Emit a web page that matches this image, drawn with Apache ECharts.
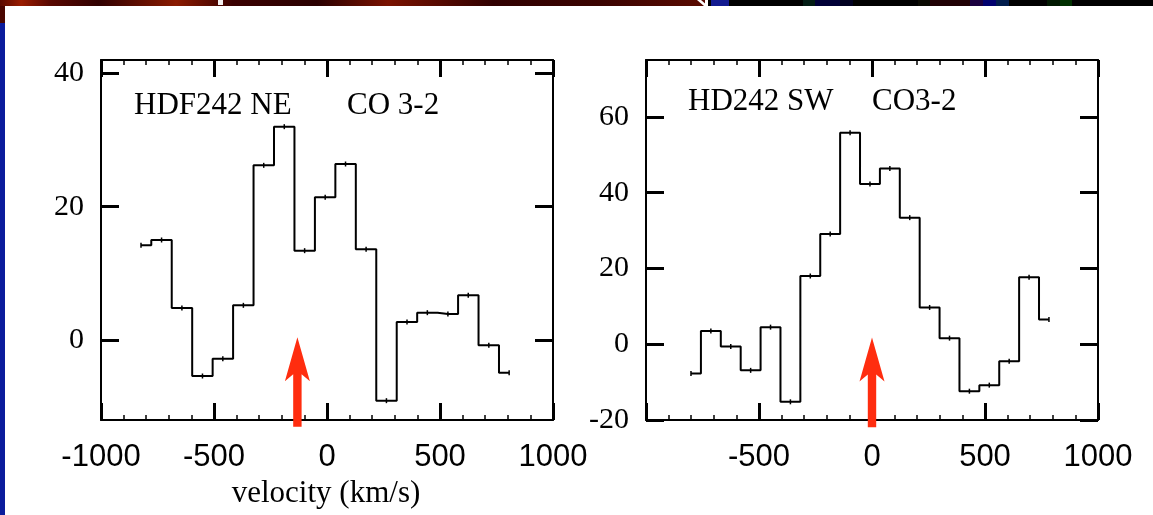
<!DOCTYPE html>
<html>
<head>
<meta charset="utf-8">
<script src="https://cdn.jsdelivr.net/npm/echarts@6/dist/echarts.min.js"></script>
<style>
html,body{margin:0;padding:0;background:#fff;}
#chart{width:1153px;height:515px;}
</style>
</head>
<body>
<div id="chart"></div>
<script>
// ---- data ----
const neVelocity = [-823, -732, -642, -551, -461, -370, -280, -189, -99, -8, 82, 173, 263, 354, 444, 535, 625, 716, 806];
const neFlux     = [14.2, 15.0, 4.8, -5.4, -2.8, 5.2, 26.2, 32.0, 13.4, 21.4, 26.4, 13.6, -9.1, 2.7, 4.1, 3.9, 6.7, -0.8, -4.9];
const swVelocity = [-801, -713, -625, -537, -449, -361, -273, -185, -97, -9, 79, 167, 255, 343, 431, 519, 607, 695, 783];
const swFlux     = [-7.7, 3.5, -0.6, -6.9, 4.5, -15.2, 18.0, 29.1, 55.8, 42.3, 46.4, 33.4, 9.7, 1.6, -12.4, -10.8, -4.5, 17.7, 6.5];
const xTicksLeft  = [-1000, -500, 0, 500, 1000];
const xTicksRight = [-500, 0, 500, 1000];
const yTicksLeft  = [0, 20, 40];
const yTicksRight = [-20, 0, 20, 40, 60];
// arrows: [velocity, tip flux, base flux]
const neArrow = [[-131, 0.4, -13.0]];
const swArrow = [[0, 1.8, -21.9]];
const labelsLeft  = ['HDF242 NE', 'CO 3-2'];
const labelsRight = ['HD242 SW', 'CO3-2'];
const xTitle = 'velocity (km/s)';

const serif = '"Liberation Serif","Times New Roman",serif';
const sans  = '"Liberation Sans",Arial,sans-serif';
const ARROW = '#ff2d0f';

function zip(a, b){ return a.map((v, i) => [v, b[i]]); }

const chart = echarts.init(document.getElementById('chart'), null, {renderer: 'canvas'});

function xAxisDef(gridIndex, pos, labelVals){
  return {
    type: 'value', gridIndex: gridIndex, position: pos,
    min: -1000, max: 1000, interval: 500,
    axisLine: {show: true, onZero: false, lineStyle: {color: '#000', width: 2}},
    axisTick: {show: true, inside: true, length: 17, lineStyle: {color: '#000', width: 3}},
    minorTick: {show: true, splitNumber: 5, length: 5, lineStyle: {color: '#000', width: 1.5}},
    splitLine: {show: false},
    axisLabel: labelVals ? {show: true, customValues: labelVals, margin: 22, fontFamily: sans, fontSize: 31, color: '#000',
      formatter: function(v){ return String(v); }} : {show: false}
  };
}
function yAxisDef(gridIndex, pos, min, max, vals, showLabel){
  return {
    type: 'value', gridIndex: gridIndex, position: pos,
    min: min, max: max,
    axisLine: {show: true, onZero: false, lineStyle: {color: '#000', width: 2}},
    axisTick: {show: true, inside: true, length: 18, customValues: vals, lineStyle: {color: '#000', width: 3}},
    splitLine: {show: false},
    axisLabel: showLabel ? {show: true, customValues: vals, margin: 17, fontFamily: serif, fontSize: 30, color: '#000',
      formatter: function(v){ return String(v); }} : {show: false}
  };
}

function arrowRender(params, api){
  const x = api.value(0);
  const t = api.coord([x, api.value(1)]);
  const b = api.coord([x, api.value(2)]);
  const hw = 4.2, headW = 12.5, headL = 44, notch = 37;
  const pts = [
    [t[0], t[1]],
    [t[0] + headW, t[1] + headL],
    [t[0] + hw, t[1] + notch],
    [t[0] + hw, b[1]],
    [t[0] - hw, b[1]],
    [t[0] - hw, t[1] + notch],
    [t[0] - headW, t[1] + headL]
  ];
  return {type: 'polygon', shape: {points: pts}, style: {fill: ARROW}};
}

function stepSeries(xi, yi, data){
  return {
    type: 'line', xAxisIndex: xi, yAxisIndex: yi, data: data, step: 'middle',
    symbol: 'rect', symbolSize: [1.5, 5], showAllSymbol: true,
    itemStyle: {color: '#000'},
    lineStyle: {color: '#000', width: 2},
    z: 3
  };
}

function txt(x, y, s, size, align){
  return {type: 'text', x: x, y: y, silent: true, z: 10,
    style: {text: s, fill: '#000', font: size + 'px ' + serif, textAlign: align || 'left', textVerticalAlign: 'middle'}};
}

const option = {
  animation: false,
  backgroundColor: '#fff',
  grid: [
    {left: 101, top: 60, width: 452, height: 360},
    {left: 646, top: 60, width: 452, height: 360}
  ],
  xAxis: [
    xAxisDef(0, 'bottom', xTicksLeft),
    xAxisDef(0, 'top', null),
    xAxisDef(1, 'bottom', xTicksRight),
    xAxisDef(1, 'top', null)
  ],
  yAxis: [
    yAxisDef(0, 'left', -12, 42, yTicksLeft, true),
    yAxisDef(0, 'right', -12, 42, yTicksLeft, false),
    yAxisDef(1, 'left', -20, 75, yTicksRight, true),
    yAxisDef(1, 'right', -20, 75, yTicksRight, false)
  ],
  series: [
    stepSeries(0, 0, zip(neVelocity, neFlux)),
    stepSeries(2, 2, zip(swVelocity, swFlux)),
    {type: 'custom', xAxisIndex: 0, yAxisIndex: 0, data: neArrow, renderItem: arrowRender, clip: false, encode: {x: 0, y: 1}, z: 5, silent: true},
    {type: 'custom', xAxisIndex: 2, yAxisIndex: 2, data: swArrow, renderItem: arrowRender, clip: false, encode: {x: 0, y: 1}, z: 5, silent: true}
  ],
  graphic: [
    // slide decoration: top band
    {type: 'rect', shape: {x: 0, y: 0, width: 705, height: 6}, silent: true,
      style: {fill: new echarts.graphic.LinearGradient(0, 0, 1, 0, [
        {offset: 0, color: '#5a0a00'}, {offset: 0.03, color: '#9a1c00'}, {offset: 0.07, color: '#5a0800'},
        {offset: 0.14, color: '#300000'}, {offset: 0.25, color: '#8a1a00'}, {offset: 0.33, color: '#3a0000'},
        {offset: 0.45, color: '#2a0000'}, {offset: 0.55, color: '#7a1200'}, {offset: 0.7, color: '#300000'},
        {offset: 0.85, color: '#3a0300'}, {offset: 1, color: '#5a0a00'}])}},
    {type: 'rect', shape: {x: 218, y: 0, width: 5, height: 5}, silent: true, style: {fill: '#f4f0f0'}},
    {type: 'polygon', shape: {points: [[697, 0], [701, 0], [708, 6], [704, 6]]}, silent: true, style: {fill: '#ffffff'}},
    {type: 'rect', shape: {x: 708, y: 0, width: 445, height: 6}, silent: true, style: {fill: '#000'}},
    {type: 'rect', shape: {x: 711, y: 0, width: 18, height: 6}, silent: true, style: {fill: '#121a90'}},
    {type: 'rect', shape: {x: 803, y: 0, width: 12, height: 6}, silent: true, style: {fill: '#021c14'}},
    {type: 'rect', shape: {x: 815, y: 0, width: 25, height: 6}, silent: true, style: {fill: '#000038'}},
    {type: 'rect', shape: {x: 840, y: 0, width: 13, height: 6}, silent: true, style: {fill: '#000020'}},
    {type: 'rect', shape: {x: 918, y: 0, width: 12, height: 6}, silent: true, style: {fill: '#0a0a02'}},
    {type: 'rect', shape: {x: 930, y: 0, width: 40, height: 6}, silent: true, style: {fill: '#200004'}},
    {type: 'rect', shape: {x: 970, y: 0, width: 13, height: 6}, silent: true, style: {fill: '#1a0040'}},
    {type: 'rect', shape: {x: 983, y: 0, width: 13, height: 6}, silent: true, style: {fill: '#00006e'}},
    {type: 'rect', shape: {x: 996, y: 0, width: 13, height: 6}, silent: true, style: {fill: '#001c4c'}},
    {type: 'rect', shape: {x: 1047, y: 0, width: 13, height: 6}, silent: true, style: {fill: '#001800'}},
    {type: 'rect', shape: {x: 1060, y: 0, width: 12, height: 6}, silent: true, style: {fill: '#003000'}},
    // left strip
    {type: 'rect', shape: {x: 0, y: 6, width: 5, height: 17}, silent: true, style: {fill: '#4a0600'}},
    {type: 'rect', shape: {x: 0, y: 23, width: 5, height: 492}, silent: true, style: {fill: '#0b1c9c'}},
    // texts
    txt(134, 106, labelsLeft[0], 31),
    txt(347, 106, labelsLeft[1], 31),
    txt(688, 102, labelsRight[0], 31),
    txt(872, 102, labelsRight[1], 31),
    txt(326, 494, xTitle, 31, 'center')
  ]
};
chart.setOption(option);
</script>
</body>
</html>
